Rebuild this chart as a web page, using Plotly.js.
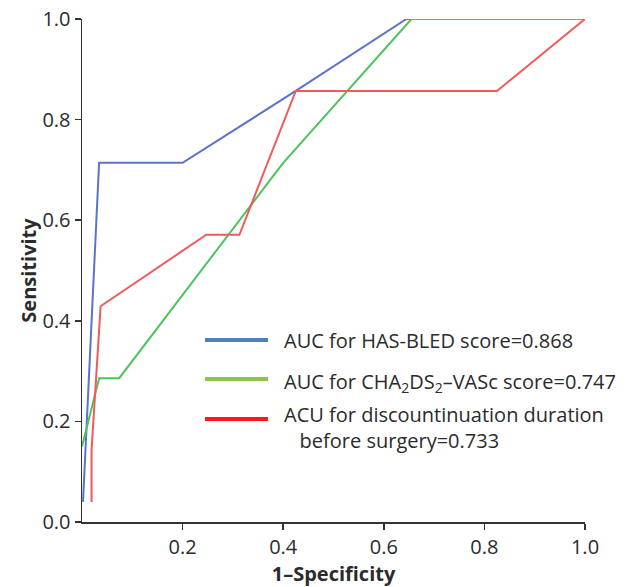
<!DOCTYPE html>
<html>
<head>
<meta charset="utf-8">
<script src="https://cdn.plot.ly/plotly-3.0.1.min.js"></script>
<style>html,body{margin:0;padding:0;background:#fff;}#chart{width:627px;height:587px;}</style>
</head>
<body>
<div id="chart"></div>
<script>
// ROC curve data (1-Specificity, Sensitivity)
const hasBledX = [0.002, 0.034, 0.2, 0.425, 0.645, 1.0];
const hasBledY = [0.04, 0.714, 0.714, 0.857, 1.0, 1.0];

const chaX = [0.0, 0.034, 0.074, 0.4, 0.655, 1.0];
const chaY = [0.15, 0.286, 0.286, 0.714, 1.0, 1.0];

const durX = [0.019, 0.019, 0.037, 0.247, 0.313, 0.425, 0.825, 1.0];
const durY = [0.04, 0.143, 0.429, 0.571, 0.571, 0.857, 0.857, 1.0];

const seriesNames = [
  "AUC for HAS-BLED score=0.868",
  "AUC for CHA<sub>2</sub>DS<sub>2</sub>–VASc score=0.747",
  "ACU for discountinuation duration<br>\u00a0\u00a0\u00a0before surgery=0.733"
];
const xTicks = [0.2, 0.4, 0.6, 0.8, 1.0];
const yTicks = [0.0, 0.2, 0.4, 0.6, 0.8, 1.0];

const font = "'Open Sans', 'Noto Sans', sans-serif";
const txt = "#2b2b2b";

const traces = [
  {x: hasBledX, y: hasBledY, mode: "lines", line: {color: "#5b73c9", width: 2}, cliponaxis: false, showlegend: false},
  {x: chaX, y: chaY, mode: "lines", line: {color: "#4cc45c", width: 2}, cliponaxis: false, showlegend: false},
  {x: durX, y: durY, mode: "lines", line: {color: "#ef5b5b", width: 2}, cliponaxis: false, showlegend: false}
];

// legend drawn manually (legend swatch colours differ from line colours)
const legendColors = ["#4f7fbf", "#8dc641", "#ff1a1a"];
const rowsY = [340, 379, 419];
const W = 627, H = 587, L = 82, R = 42, T = 19, B = 65;
const pw = W - L - R, ph = H - T - B;
function px(xp) { return (xp - L) / pw; }
function py(yp) { return 1 - (yp - T) / ph; }

const shapes = legendColors.map((c, i) => ({
  type: "line", xref: "paper", yref: "paper",
  x0: px(205), x1: px(268), y0: py(rowsY[i]), y1: py(rowsY[i]),
  line: {color: c, width: 4}
}));

const annotations = [
  {text: seriesNames[0], x: px(282), y: py(340)},
  {text: seriesNames[1], x: px(282), y: py(382)},
  {text: seriesNames[2], x: px(282), y: py(427)}
].map(a => Object.assign({xref: "paper", yref: "paper", xanchor: "left", yanchor: "middle", align: "left",
  showarrow: false, font: {family: font, size: 20, color: txt}}, a));

const layout = {
  width: W, height: H,
  margin: {l: L, r: R, t: T, b: B, pad: 0},
  paper_bgcolor: "#fff", plot_bgcolor: "#fff",
  showlegend: false,
  font: {family: font, size: 20, color: txt},
  xaxis: {
    range: [0, 1], tickvals: xTicks, ticktext: xTicks.map(v => v.toFixed(1)),
    showgrid: false, zeroline: false, showline: true, linecolor: "#333", linewidth: 1.5,
    ticks: "outside", ticklen: 6, tickwidth: 1.5, tickcolor: "#333",
    tickfont: {family: font, size: 20, color: txt},
    title: {text: "1–Specificity", font: {family: font, size: 20, color: txt, weight: "bold"}, standoff: 4}
  },
  yaxis: {
    range: [0, 1], tickvals: yTicks, ticktext: yTicks.map(v => v.toFixed(1)),
    showgrid: false, zeroline: false, showline: true, linecolor: "#333", linewidth: 1.5,
    ticks: "outside", ticklen: 6, tickwidth: 1.5, tickcolor: "#333",
    tickfont: {family: font, size: 20, color: txt},
    title: {text: "Sensitivity", font: {family: font, size: 20, color: txt, weight: "bold"}, standoff: 0}
  },
  shapes: shapes,
  annotations: annotations
};

Plotly.newPlot("chart", traces, layout, {displayModeBar: false, staticPlot: true});
</script>
</body>
</html>
